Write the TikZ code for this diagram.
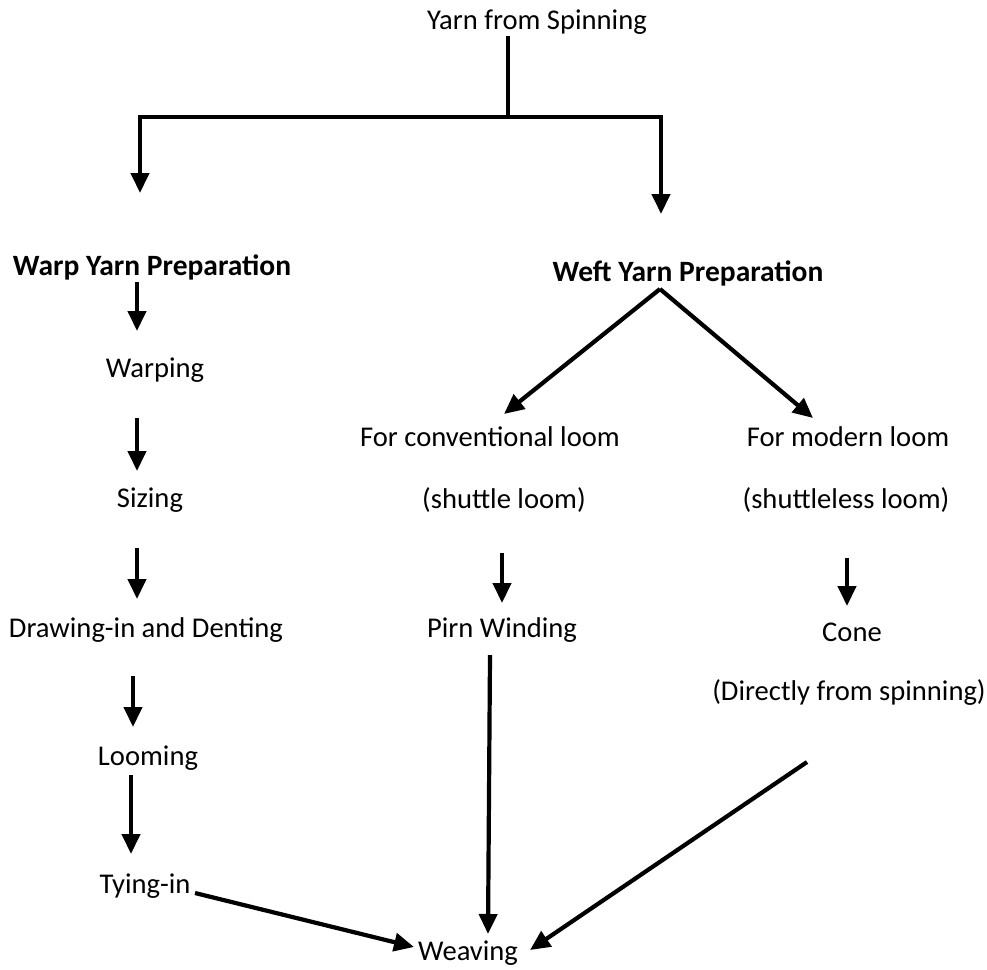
\documentclass[tikz,border=0pt]{standalone}
\usepackage{fontspec}
\setmainfont{Carlito}
\usetikzlibrary{arrows.meta}
\begin{document}
\begin{tikzpicture}[x=1pt,y=-1pt,
  lbl/.style={inner sep=0pt,font=\fontsize{28.6}{32}\selectfont},
  blbl/.style={inner sep=0pt,font=\fontsize{29.5}{33}\selectfont\bfseries},
  conn/.style={line width=4.2pt,black},
  arr/.style={conn,-{Triangle[width=18pt,length=20pt]}}]
\useasboundingbox (0,0) rectangle (987,969);
% nodes
\node[lbl]  (yarn)    at (537,22)  {Yarn from Spinning};
\node[blbl] (warp)    at (152,267) {Warp Yarn Preparation};
\node[blbl] (weft)    at (688,273) {Weft Yarn Preparation};
\node[lbl]  (warping) at (155,370) {Warping};
\node[lbl]  (sizing)  at (150,500) {Sizing};
\node[lbl]  (drawing) at (146,630) {Drawing-in and Denting};
\node[lbl]  (looming) at (148,758) {Looming};
\node[lbl]  (tying)   at (145,886) {Tying-in};
\node[lbl]  (weaving) at (468,953) {Weaving};
\node[lbl]  (conv1)   at (490,437) {For conventional loom};
\node[lbl]  (conv2)   at (504,500) {(shuttle loom)};
\node[lbl]  (mod1)    at (848,437) {For modern loom};
\node[lbl]  (mod2)    at (846,500) {(shuttleless loom)};
\node[lbl]  (pirn)    at (502,630) {Pirn Winding};
\node[lbl]  (cone)    at (852,632) {Cone};
\node[lbl]  (direct)  at (849,692) {(Directly from spinning)};
% coordinates
\coordinate (ys) at (508,36);
\coordinate (j)  at (508,117);
\coordinate (jl) at (140,117);
\coordinate (jr) at (661,117);
\coordinate (wa) at (140,193);
\coordinate (we) at (661,214);
\coordinate (apex) at (660,289);
\coordinate (ct) at (504,414);
\coordinate (mt) at (813,418);
\coordinate (a1s) at (137,282); \coordinate (a1e) at (137,331);
\coordinate (a2s) at (137,418); \coordinate (a2e) at (137,471);
\coordinate (a3s) at (137,548); \coordinate (a3e) at (137,599);
\coordinate (a4s) at (133,676); \coordinate (a4e) at (133,727);
\coordinate (a5s) at (131,775); \coordinate (a5e) at (131,854);
\coordinate (ts) at (195,893);  \coordinate (te) at (414,947);
\coordinate (p1s) at (502,553); \coordinate (p1e) at (502,603);
\coordinate (p2s) at (490,655); \coordinate (p2e) at (488,934);
\coordinate (c1s) at (847,558); \coordinate (c1e) at (847,606);
\coordinate (c2s) at (807,762); \coordinate (c2e) at (530,950);
% connectors
\draw[conn] (ys) -- (j);
\draw[arr] (j) -- (jl) -- (wa);
\draw[arr] (j) -- (jr) -- (we);
\draw[arr] (apex) -- (ct);
\draw[arr] (apex) -- (mt);
\draw[arr] (a1s) -- (a1e);
\draw[arr] (a2s) -- (a2e);
\draw[arr] (a3s) -- (a3e);
\draw[arr] (a4s) -- (a4e);
\draw[arr] (a5s) -- (a5e);
\draw[arr] (ts) -- (te);
\draw[arr] (p1s) -- (p1e);
\draw[arr] (p2s) -- (p2e);
\draw[arr] (c1s) -- (c1e);
\draw[arr] (c2s) -- (c2e);
\end{tikzpicture}
\end{document}
